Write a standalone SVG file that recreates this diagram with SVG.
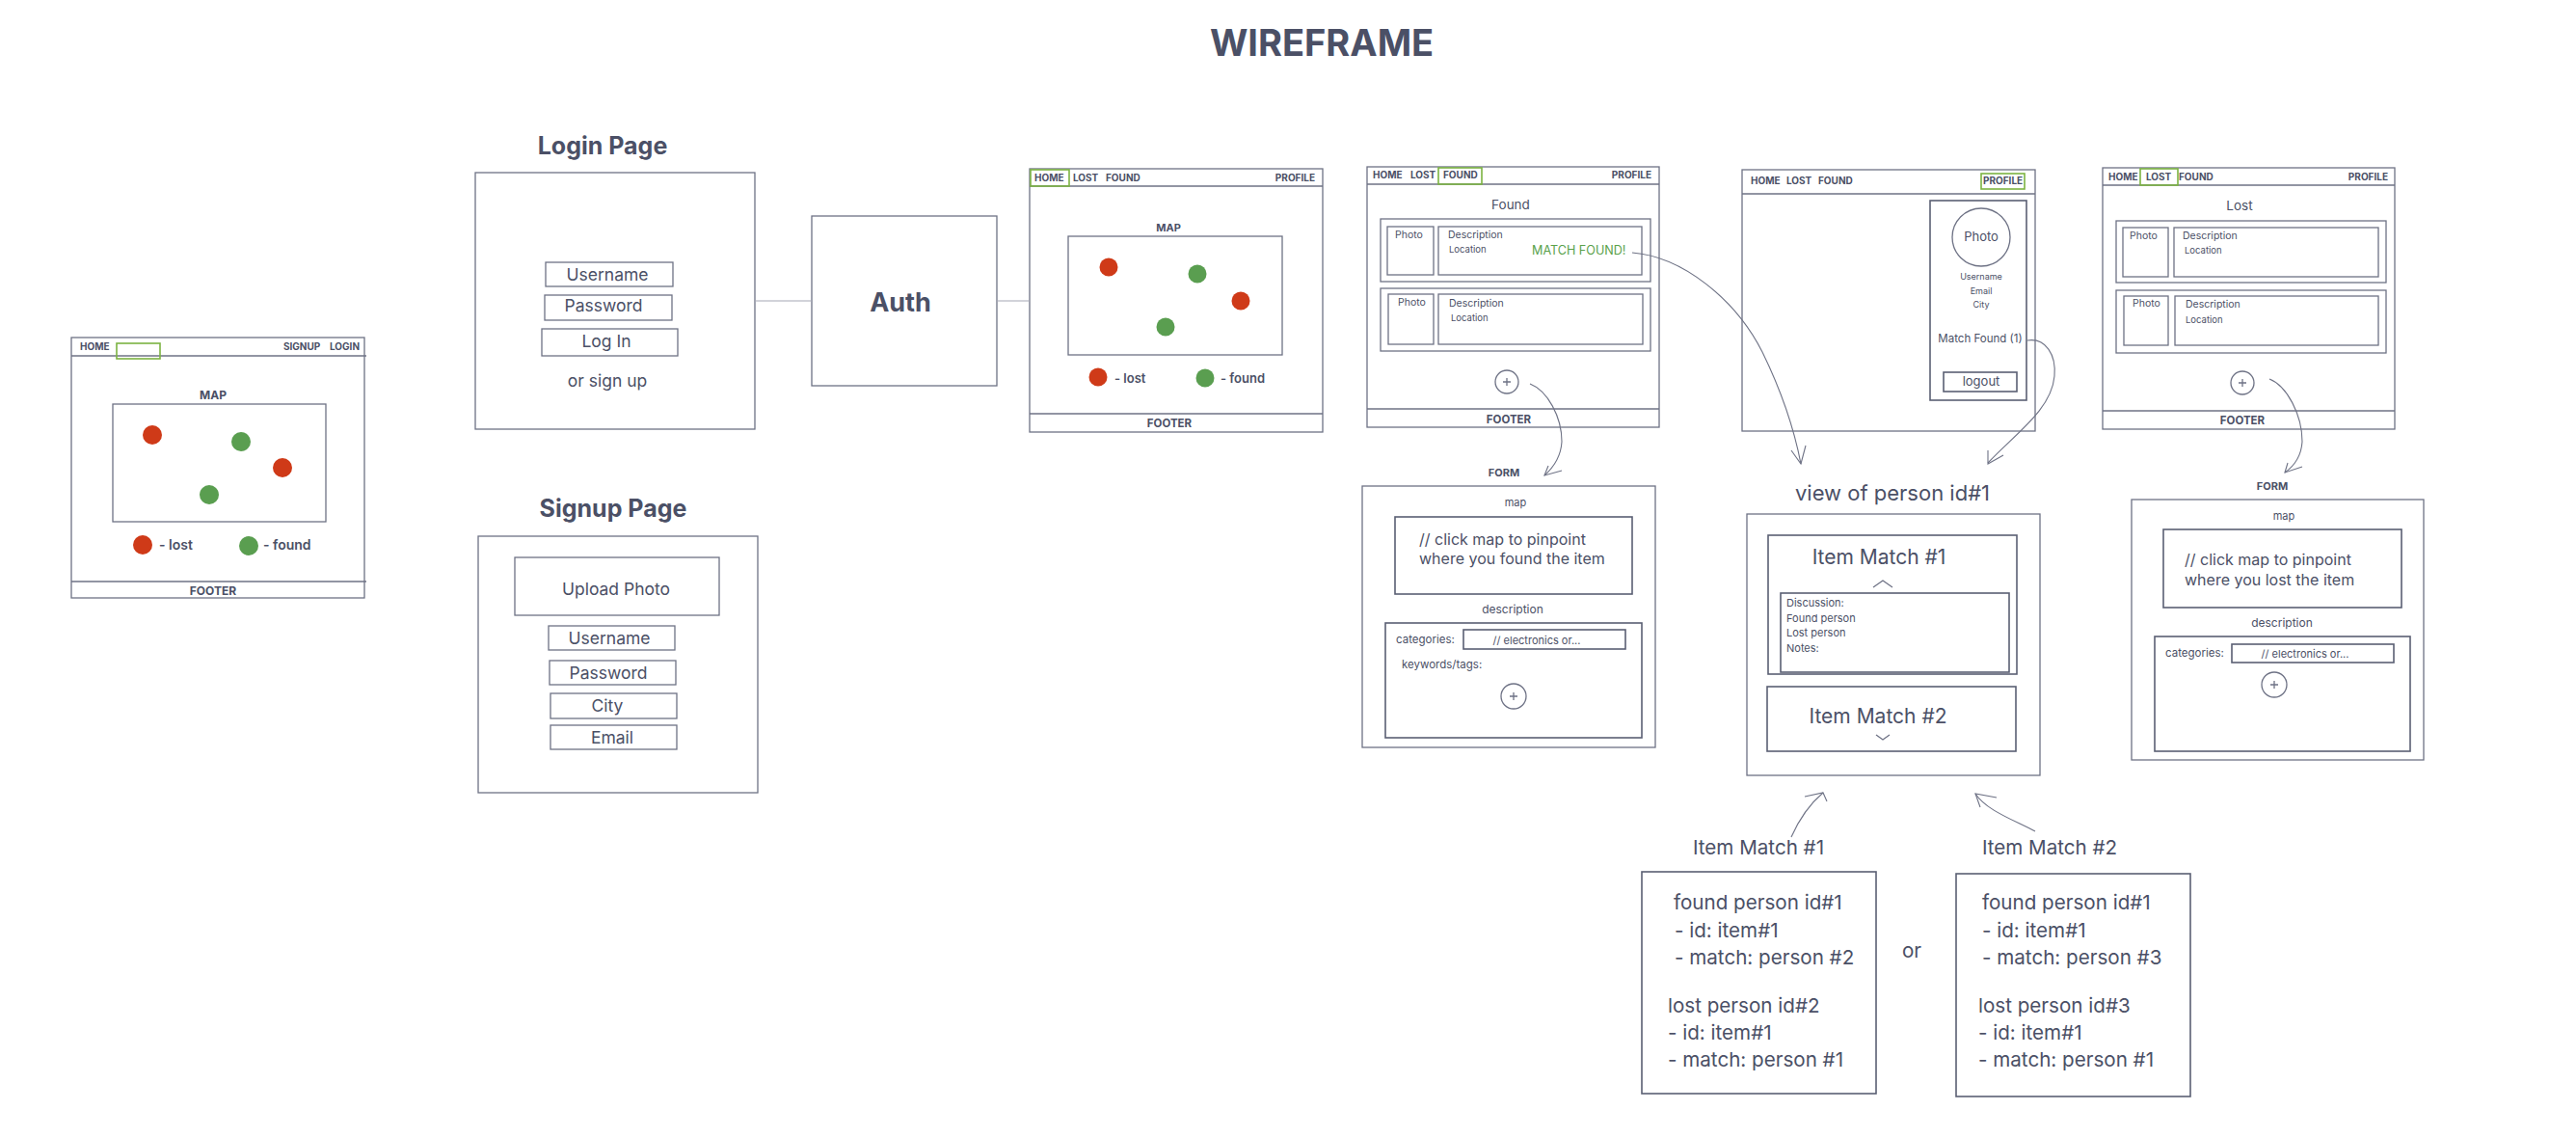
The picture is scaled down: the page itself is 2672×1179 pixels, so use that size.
<svg xmlns="http://www.w3.org/2000/svg" width="2672" height="1179" viewBox="0 0 2672 1179">
<style>
text{font-family:Inter,"Liberation Sans",sans-serif;fill:#4b5066}
.b{fill:none;stroke:#6e7285;stroke-width:1.3}
.bd{fill:none;stroke:#5a5f73;stroke-width:1.6}
.hl{fill:none;stroke:#7cb342;stroke-width:1.6}
.nav{font-size:10px;font-weight:700}
.ttl{font-size:25px;font-weight:700;text-anchor:middle}
.c{text-anchor:middle}
.inp{font-size:17.5px;text-anchor:middle}
.lbl{font-size:12px;font-weight:700;text-anchor:middle}
.red{fill:#cf3a18}
.grn{fill:#5a9e50}
.sm{font-size:10.5px}
.xs{font-size:9.5px}
.conn{fill:none;stroke:#6e7285;stroke-width:1.1}
.big{font-size:21px}
.mt{font-size:20.6px}
</style>
<text x="1371" y="58" style="font-size:38px;font-weight:700" class="c">WIREFRAME</text>

<g id="home-guest">
<rect class="b" x="74" y="350" width="304" height="270"/>
<line class="b" x1="74" y1="369" x2="380" y2="369"/>
<rect class="hl" x="121" y="356" width="45" height="16"/>
<text class="nav" x="83" y="363">HOME</text>
<text class="nav" x="294" y="363">SIGNUP</text>
<text class="nav" x="342" y="363">LOGIN</text>
<text class="lbl" x="221" y="414">MAP</text>
<rect class="b" x="117" y="419" width="221" height="122"/>
<circle class="red" cx="158" cy="451" r="10"/>
<circle class="red" cx="293" cy="485" r="10"/>
<circle class="grn" cx="250" cy="458" r="10"/>
<circle class="grn" cx="217" cy="513" r="10"/>
<circle class="red" cx="148" cy="565" r="10"/>
<text x="165" y="570" style="font-size:14px;font-weight:600">- lost</text>
<circle class="grn" cx="258" cy="566" r="10"/>
<text x="273" y="570" style="font-size:14px;font-weight:600">- found</text>
<line class="b" x1="74" y1="603" x2="380" y2="603"/>
<text class="lbl" x="221" y="617">FOOTER</text>
</g>

<g id="login">
<text class="ttl" x="625" y="160">Login Page</text>
<rect class="b" x="493" y="179" width="290" height="266"/>
<rect class="b" x="566" y="272" width="132" height="25"/>
<text class="inp" x="630" y="291">Username</text>
<rect class="b" x="565" y="306" width="132" height="26"/>
<text class="inp" x="626" y="323">Password</text>
<rect class="b" x="562" y="341" width="141" height="28"/>
<text class="inp" x="629" y="360">Log In</text>
<text class="inp" x="630" y="401">or sign up</text>
</g>

<g id="signup">
<text class="ttl" x="636" y="536">Signup Page</text>
<rect class="b" x="496" y="556" width="290" height="266"/>
<rect class="b" x="534" y="578" width="212" height="60"/>
<text class="inp" x="639" y="617">Upload Photo</text>
<rect class="b" x="569" y="649" width="131" height="25"/>
<text class="inp" x="632" y="668">Username</text>
<rect class="b" x="570" y="685" width="131" height="25"/>
<text class="inp" x="631" y="704">Password</text>
<rect class="b" x="571" y="719" width="131" height="26"/>
<text class="inp" x="630" y="738">City</text>
<rect class="b" x="571" y="752" width="131" height="25"/>
<text class="inp" x="635" y="771">Email</text>
</g>

<g id="auth">
<rect class="b" x="842" y="224" width="192" height="176"/>
<text x="934" y="323" class="c" style="font-size:27px;font-weight:700">Auth</text>
</g>

<g id="home-user">
<rect class="b" x="1068" y="175" width="304" height="273"/>
<line class="b" x1="1068" y1="193" x2="1372" y2="193"/>
<rect class="hl" x="1069" y="176" width="40" height="17"/>
<text class="nav" x="1073" y="188">HOME</text>
<text class="nav" x="1113" y="188">LOST</text>
<text class="nav" x="1147" y="188">FOUND</text>
<text class="nav" x="1364" y="188" text-anchor="end">PROFILE</text>
<text class="lbl" x="1212" y="240" style="font-size:11px">MAP</text>
<rect class="b" x="1108" y="245" width="222" height="123"/>
<circle class="red" cx="1150" cy="277" r="9.5"/>
<circle class="red" cx="1287" cy="312" r="9.5"/>
<circle class="grn" cx="1242" cy="284" r="9.5"/>
<circle class="grn" cx="1209" cy="339" r="9.5"/>
<circle class="red" cx="1139" cy="391" r="9.5"/>
<text x="1156" y="397" style="font-size:13px;font-weight:600">- lost</text>
<circle class="grn" cx="1250" cy="392" r="9.5"/>
<text x="1266" y="397" style="font-size:13px;font-weight:600">- found</text>
<line class="b" x1="1068" y1="429" x2="1372" y2="429"/>
<text class="lbl" x="1213" y="443" style="font-size:11.5px">FOOTER</text>
</g>

<g id="found">
<rect class="b" x="1418" y="173" width="303" height="270"/>
<line class="b" x1="1418" y1="191" x2="1721" y2="191"/>
<rect class="hl" x="1492" y="174" width="45" height="17"/>
<text class="nav" x="1424" y="185">HOME</text>
<text class="nav" x="1463" y="185">LOST</text>
<text class="nav" x="1497" y="185">FOUND</text>
<text class="nav" x="1713" y="185" text-anchor="end">PROFILE</text>
<text class="c" x="1567" y="217" style="font-size:13.5px">Found</text>
<rect class="b" x="1432" y="227" width="280" height="65"/>
<rect class="b" x="1439" y="235" width="48" height="50"/>
<text class="sm" x="1447" y="247">Photo</text>
<rect class="b" x="1492" y="235" width="211" height="50"/>
<text class="sm" x="1502" y="247">Description</text>
<text class="xs" x="1503" y="262">Location</text>
<text x="1589" y="264" style="font-size:12.6px;fill:#5aa14a">MATCH FOUND!</text>
<rect class="b" x="1432" y="299" width="280" height="65"/>
<rect class="b" x="1440" y="305" width="47" height="52"/>
<text class="sm" x="1450" y="317">Photo</text>
<rect class="b" x="1492" y="305" width="212" height="52"/>
<text class="sm" x="1503" y="318">Description</text>
<text class="xs" x="1505" y="333">Location</text>
<circle class="b" cx="1563" cy="396" r="12"/>
<path class="b" d="M1559,396H1567M1563,392V400"/>
<line class="b" x1="1418" y1="424" x2="1721" y2="424"/>
<text class="lbl" x="1565" y="439" style="font-size:11.5px">FOOTER</text>
</g>

<g id="found-form">
<text class="lbl" x="1560" y="494" style="font-size:11px">FORM</text>
<rect class="b" x="1413" y="504" width="304" height="271"/>
<text class="c" x="1572" y="525" style="font-size:11px">map</text>
<rect class="bd" x="1447" y="536" width="246" height="80"/>
<text x="1472" y="565" style="font-size:16px">// click map to pinpoint</text>
<text x="1472" y="585" style="font-size:16px">where you found the item</text>
<text class="c" x="1569" y="636" style="font-size:12px">description</text>
<rect class="bd" x="1437" y="646" width="266" height="119"/>
<text x="1448" y="667" style="font-size:11.5px">categories:</text>
<rect class="bd" x="1518" y="653" width="168" height="20"/>
<text class="c" x="1594" y="668" style="font-size:11px">// electronics or...</text>
<text x="1454" y="693" style="font-size:11.5px">keywords/tags:</text>
<circle class="b" cx="1570" cy="722" r="13"/>
<path class="b" d="M1566,722H1574M1570,718V726"/>
</g>

<g id="profile">
<rect class="b" x="1807" y="176" width="304" height="271"/>
<line class="b" x1="1807" y1="201" x2="2111" y2="201"/>
<text class="nav" x="1816" y="191">HOME</text>
<text class="nav" x="1853" y="191">LOST</text>
<text class="nav" x="1886" y="191">FOUND</text>
<rect class="hl" x="2055" y="180" width="45" height="16"/>
<text class="nav" x="2057" y="191">PROFILE</text>
<rect class="bd" x="2002" y="208" width="100" height="207"/>
<circle class="b" cx="2055" cy="246" r="30"/>
<text class="c" x="2055" y="250" style="font-size:13px">Photo</text>
<text class="c" x="2055" y="290" style="font-size:9px">Username</text>
<text class="c" x="2055" y="305" style="font-size:9px">Email</text>
<text class="c" x="2055" y="319" style="font-size:9px">City</text>
<text class="c" x="2054" y="355" style="font-size:11.5px">Match Found (1)</text>
<rect class="bd" x="2016" y="386" width="76" height="20"/>
<text class="c" x="2055" y="400" style="font-size:13px">logout</text>
</g>

<g id="view-person">
<text class="c" x="1963" y="519" style="font-size:22px">view of person id#1</text>
<rect class="b" x="1812" y="533" width="304" height="271"/>
<rect class="bd" x="1834" y="555" width="258" height="144"/>
<text class="c big" x="1949" y="585">Item Match #1</text>
<path class="b" d="M1943,609L1953,602L1963,609"/>
<rect class="bd" x="1847" y="615" width="237" height="82"/>
<text x="1853" y="629" style="font-size:11px">Discussion:</text>
<text x="1853" y="645" style="font-size:11px">Found person</text>
<text x="1853" y="660" style="font-size:11px">Lost person</text>
<text x="1853" y="676" style="font-size:11px">Notes:</text>
<rect class="bd" x="1833" y="712" width="258" height="67"/>
<text class="c big" x="1948" y="750">Item Match #2</text>
<path class="b" d="M1946,762L1953,767L1960,762"/>
</g>

<g id="match-1">
<text class="c mt" x="1824" y="886">Item Match #1</text>
<rect class="bd" x="1703" y="904" width="243" height="230"/>
<text class="mt" x="1736" y="943">found person id#1</text>
<text class="mt" x="1737" y="972">- id: item#1</text>
<text class="mt" x="1737" y="1000">- match: person #2</text>
<text class="mt" x="1730" y="1050">lost person id#2</text>
<text class="mt" x="1730" y="1078">- id: item#1</text>
<text class="mt" x="1730" y="1106">- match: person #1</text>
</g>

<text class="c mt" x="1983" y="993">or</text>

<g id="match-2">
<text class="c mt" x="2126" y="886">Item Match #2</text>
<rect class="bd" x="2029" y="906" width="243" height="231"/>
<text class="mt" x="2056" y="943">found person id#1</text>
<text class="mt" x="2056" y="972">- id: item#1</text>
<text class="mt" x="2056" y="1000">- match: person #3</text>
<text class="mt" x="2052" y="1050">lost person id#3</text>
<text class="mt" x="2052" y="1078">- id: item#1</text>
<text class="mt" x="2052" y="1106">- match: person #1</text>
</g>

<g id="lost">
<rect class="b" x="2181" y="174" width="303" height="271"/>
<line class="b" x1="2181" y1="192" x2="2484" y2="192"/>
<text class="nav" x="2187" y="187">HOME</text>
<rect class="hl" x="2220" y="175" width="39" height="17"/>
<text class="nav" x="2226" y="187">LOST</text>
<text class="nav" x="2260" y="187">FOUND</text>
<text class="nav" x="2477" y="187" text-anchor="end">PROFILE</text>
<text class="c" x="2323" y="218" style="font-size:13.5px">Lost</text>
<rect class="b" x="2195" y="229" width="280" height="64"/>
<rect class="b" x="2202" y="236" width="47" height="51"/>
<text class="sm" x="2209" y="248">Photo</text>
<rect class="b" x="2255" y="236" width="212" height="51"/>
<text class="sm" x="2264" y="248">Description</text>
<text class="xs" x="2266" y="263">Location</text>
<rect class="b" x="2195" y="301" width="280" height="65"/>
<rect class="b" x="2203" y="307" width="46" height="51"/>
<text class="sm" x="2212" y="318">Photo</text>
<rect class="b" x="2256" y="307" width="211" height="51"/>
<text class="sm" x="2267" y="319">Description</text>
<text class="xs" x="2267" y="335">Location</text>
<circle class="b" cx="2326" cy="397" r="12"/>
<path class="b" d="M2322,397H2330M2326,393V401"/>
<line class="b" x1="2181" y1="426" x2="2484" y2="426"/>
<text class="lbl" x="2326" y="440" style="font-size:11.5px">FOOTER</text>
</g>

<g id="lost-form">
<text class="lbl" x="2357" y="508" style="font-size:11px">FORM</text>
<rect class="b" x="2211" y="518" width="303" height="270"/>
<text class="c" x="2369" y="539" style="font-size:11px">map</text>
<rect class="bd" x="2244" y="549" width="247" height="81"/>
<text x="2266" y="586" style="font-size:16px">// click map to pinpoint</text>
<text x="2266" y="607" style="font-size:16px">where you lost the item</text>
<text class="c" x="2367" y="650" style="font-size:12px">description</text>
<rect class="bd" x="2235" y="660" width="265" height="119"/>
<text x="2246" y="681" style="font-size:11.5px">categories:</text>
<rect class="bd" x="2315" y="668" width="168" height="19"/>
<text class="c" x="2391" y="682" style="font-size:11px">// electronics or...</text>
<circle class="b" cx="2359" cy="710" r="13"/>
<path class="b" d="M2355,710H2363M2359,706V714"/>
</g>

<g id="connectors">
<line class="conn" x1="783" y1="312" x2="842" y2="312" style="stroke:#a5a8b5"/>
<line class="conn" x1="1034" y1="312" x2="1068" y2="312" style="stroke:#a5a8b5"/>
<path class="conn" d="M1693,262C1745,266 1800,310 1828,365C1850,410 1862,450 1868,481"/>
<path class="conn" d="M1858,467L1868,481L1873,462"/>
<path class="conn" d="M2103,353C2122,350 2133,368 2131,390C2128,425 2090,450 2062,480"/>
<path class="conn" d="M2062,467L2062,481L2078,472"/>
<path class="conn" d="M1587,398C1605,405 1620,432 1620,458C1619,475 1611,485 1602,493"/>
<path class="conn" d="M1606,483L1602,493L1620,488"/>
<path class="conn" d="M2354,393C2372,400 2388,430 2388,458C2387,473 2380,483 2370,490"/>
<path class="conn" d="M2373,480L2370,490L2388,484"/>
<path class="conn" d="M1858,868C1866,850 1878,833 1891,822"/>
<path class="conn" d="M1872,826L1891,822L1895,831"/>
<path class="conn" d="M2111,862C2088,850 2060,840 2049,823"/>
<path class="conn" d="M2071,827L2049,823L2054,837"/>
</g>
</svg>
